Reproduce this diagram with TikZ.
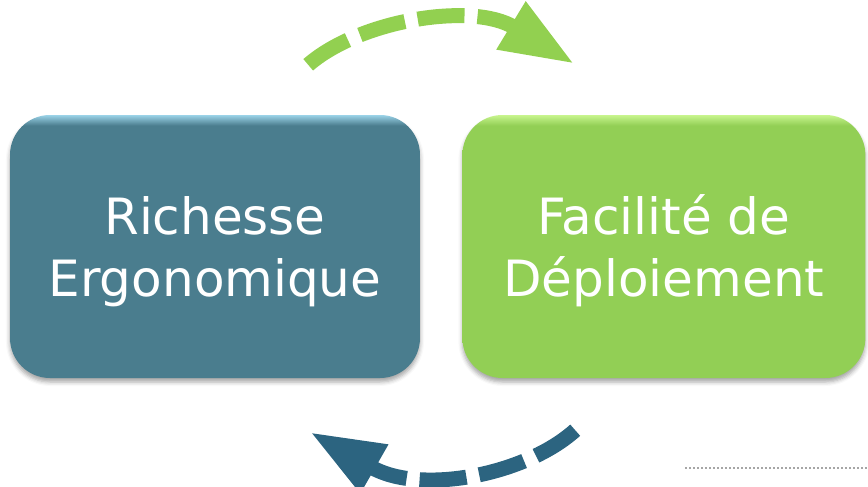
\documentclass[tikz,border=0pt]{standalone}
\usepackage{fontspec}
\setmainfont{DejaVu Sans}
\usepackage{xcolor}
\usepackage{tikz}
\usetikzlibrary{arrows.meta, positioning, shadows.blur}
\definecolor{boxblue}{HTML}{4A7D8E}
\definecolor{boxbluetop}{HTML}{9BD3E8}
\definecolor{boxgreen}{HTML}{92CF55}
\definecolor{boxgreentop}{HTML}{C8F58E}
\definecolor{arrowblue}{HTML}{2C6480}
\definecolor{arrowgreen}{HTML}{92D050}
\pgfdeclareverticalshading{bluetop}{100bp}{color(0bp)=(boxblue); color(73bp)=(boxblue); color(75bp)=(boxbluetop); color(100bp)=(boxbluetop)}
\pgfdeclareverticalshading{greentop}{100bp}{color(0bp)=(boxgreen); color(73bp)=(boxgreen); color(75bp)=(boxgreentop); color(100bp)=(boxgreentop)}
\newcommand\padtop{\rule{0pt}{48pt}}

\begin{document}
\begin{tikzpicture}[
  x=1pt, y=-1pt,
  font=\fontsize{50pt}{62pt}\selectfont,
  panel/.style={rounded corners=40pt, align=center, text=white, inner sep=0pt,
                minimum height=263pt, minimum width=410pt,
                blur shadow={shadow xshift=0pt, shadow yshift=-4pt,
                             shadow blur radius=4pt, shadow opacity=35}},
  bluepanel/.style={panel, shading=bluetop},
  greenpanel/.style={panel, shading=greentop},
  arr/.style={line width=15pt, dash pattern=on 47pt off 13pt,
              -{Triangle[length=74pt, width=52pt]}},
]
\useasboundingbox (0,0) rectangle (868,487);
\node[bluepanel] (richesse) at (215,246.5) {\padtop Richesse\\Ergonomique};
\node[greenpanel, right=42pt of richesse, minimum width=403pt] (deploiement) {\padtop Facilité de\\Déploiement};
\draw[arr, arrowgreen] ([shift={(-112,-50)}]richesse.north east) .. controls +(52,-45) and +(-102,-62) .. ([shift={(112,-51)}]deploiement.north west);
\draw[arr, arrowblue] ([shift={(113,52)}]deploiement.south west) .. controls +(-50,45) and +(110,63) .. ([shift={(-110,54)}]richesse.south east);
% thin rule at the bottom right
\draw[gray!70, line width=1.5pt, dash pattern=on 2pt off 2pt] (685,468) -- (868,468);
\end{tikzpicture}
\end{document}
